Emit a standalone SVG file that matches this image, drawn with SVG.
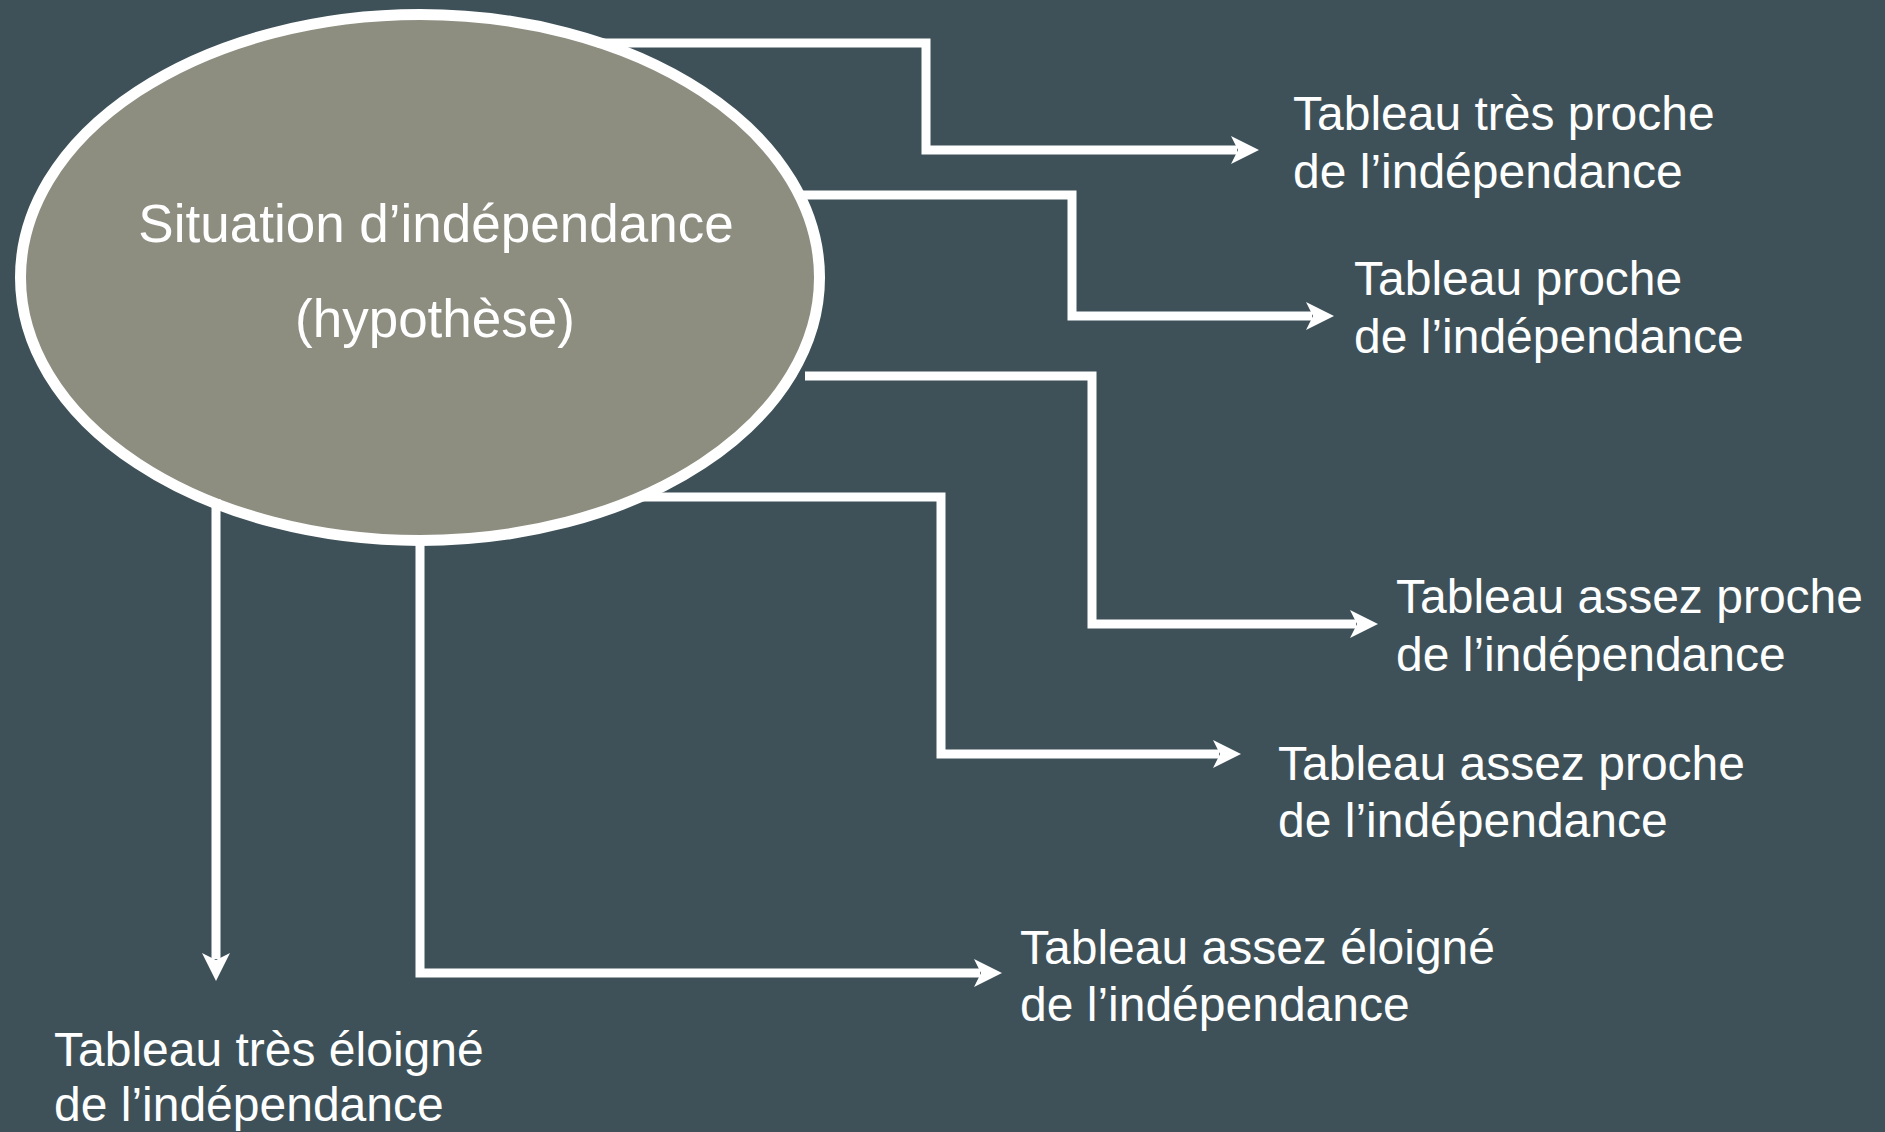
<svg xmlns="http://www.w3.org/2000/svg" width="1885" height="1132" viewBox="0 0 1885 1132">
  <style>
    .bg { fill: #3E5159; }
    .hub { fill: #8D8E80; stroke: #FFFFFF; stroke-width: 11; }
    .hubtxt { font-family: "Liberation Sans", Arial, sans-serif; font-size: 53px; fill: #FFFFFF; text-anchor: middle; }
    .lbl { font-family: "Liberation Sans", Arial, sans-serif; font-size: 48px; fill: #FFFFFF; }
    .conn { fill: none; stroke: #FFFFFF; stroke-width: 9; stroke-linejoin: miter; stroke-linecap: butt; }
  </style>
  <defs>
    <marker id="arr" markerUnits="userSpaceOnUse" viewBox="0 0 28 28" markerWidth="28" markerHeight="28" refX="6" refY="14" orient="auto">
      <path d="M0,0 L28,14 L0,28 L7,14 Z" fill="#FFFFFF"/>
    </marker>
  </defs>
  <rect class="bg" x="0" y="0" width="1885" height="1132"/>

  <g id="hub">
    <ellipse class="hub" cx="420" cy="277.5" rx="399.5" ry="263"/>
    <text class="hubtxt" x="436" y="242">Situation d’indépendance</text>
    <text class="hubtxt" x="435" y="337">(hypothèse)</text>
  </g>

  <g id="connectors">
    <path class="conn" d="M597,43 H926 V150 H1237" marker-end="url(#arr)"/>
    <path class="conn" d="M800,195 H1072 V316 H1312" marker-end="url(#arr)"/>
    <path class="conn" d="M805,376 H1092 V624 H1356" marker-end="url(#arr)"/>
    <path class="conn" d="M643,497 H941 V754 H1219" marker-end="url(#arr)"/>
    <path class="conn" d="M420,544 V973 H980" marker-end="url(#arr)"/>
    <path class="conn" d="M216,499 V959" marker-end="url(#arr)"/>
  </g>

  <g id="n1">
    <text class="lbl" x="1293" y="130">Tableau très proche</text>
    <text class="lbl" x="1293" y="188">de l’indépendance</text>
  </g>
  <g id="n2">
    <text class="lbl" x="1354" y="295">Tableau proche</text>
    <text class="lbl" x="1354" y="353">de l’indépendance</text>
  </g>
  <g id="n3">
    <text class="lbl" x="1396" y="613">Tableau assez proche</text>
    <text class="lbl" x="1396" y="671">de l’indépendance</text>
  </g>
  <g id="n4">
    <text class="lbl" x="1278" y="780">Tableau assez proche</text>
    <text class="lbl" x="1278" y="837">de l’indépendance</text>
  </g>
  <g id="n5">
    <text class="lbl" x="1020" y="964">Tableau assez éloigné</text>
    <text class="lbl" x="1020" y="1021">de l’indépendance</text>
  </g>
  <g id="n6">
    <text class="lbl" x="54" y="1066">Tableau très éloigné</text>
    <text class="lbl" x="54" y="1121">de l’indépendance</text>
  </g>
</svg>
